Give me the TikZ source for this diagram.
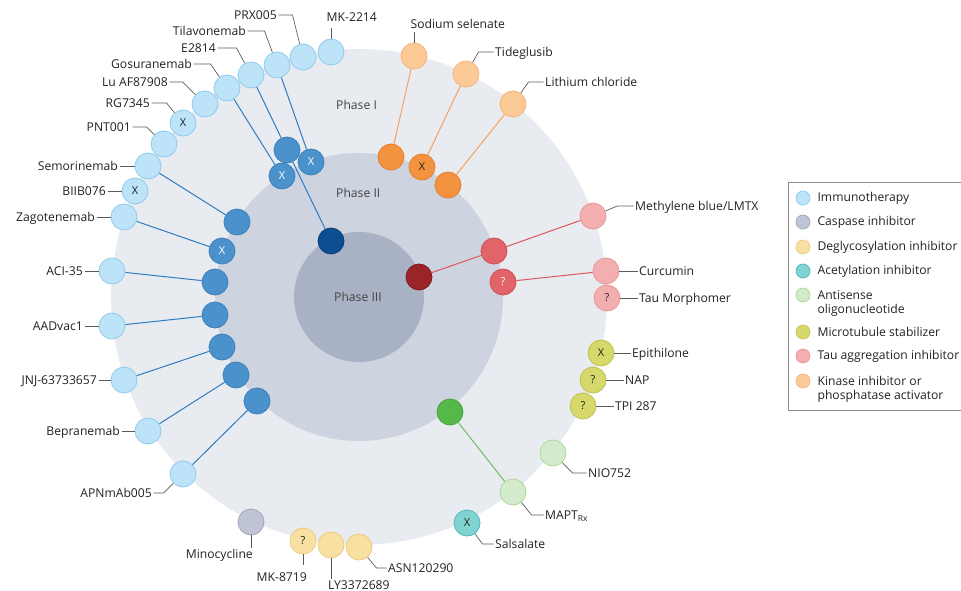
\documentclass[tikz,border=0pt]{standalone}
\usepackage{fontspec}
\setmainfont{Open Sans}
\usepackage{xcolor}
\usepackage{tikz}
\usetikzlibrary{positioning}
\definecolor{ink}{HTML}{222222}
\definecolor{leadc}{HTML}{5A5A5A}
\definecolor{ringI}{HTML}{E8EBF0}
\definecolor{ringII}{HTML}{CDD3DF}
\definecolor{ringIII}{HTML}{A9B1C4}
\definecolor{immF}{HTML}{BDE3F8}
\definecolor{immB}{HTML}{8ECBEE}
\definecolor{immIIF}{HTML}{4B92CC}
\definecolor{immIIB}{HTML}{3C7FBA}
\definecolor{immIIIF}{HTML}{0C4E91}
\definecolor{immIIIB}{HTML}{093F76}
\definecolor{immLine}{HTML}{2E7CC1}
\definecolor{kinF}{HTML}{FCCA97}
\definecolor{kinB}{HTML}{F5B27B}
\definecolor{kinIIF}{HTML}{F4933F}
\definecolor{kinIIB}{HTML}{E37F2C}
\definecolor{kinLine}{HTML}{F5A160}
\definecolor{tauF}{HTML}{F3AFB0}
\definecolor{tauB}{HTML}{E99698}
\definecolor{tauIIF}{HTML}{E16568}
\definecolor{tauIIB}{HTML}{CD5054}
\definecolor{tauIIIF}{HTML}{9A2428}
\definecolor{tauIIIB}{HTML}{7E1A1E}
\definecolor{tauLine}{HTML}{DB585C}
\definecolor{mtbF}{HTML}{D6D86B}
\definecolor{mtbB}{HTML}{BFC24E}
\definecolor{asoF}{HTML}{D3EBCA}
\definecolor{asoB}{HTML}{A8DA98}
\definecolor{asoIIF}{HTML}{55B94A}
\definecolor{asoIIB}{HTML}{45A33B}
\definecolor{asoLine}{HTML}{6DC05F}
\definecolor{acetF}{HTML}{81D3D2}
\definecolor{acetB}{HTML}{4EB9B8}
\definecolor{deglyF}{HTML}{F7E0A2}
\definecolor{deglyB}{HTML}{EBCB7C}
\definecolor{caspF}{HTML}{BFC5D5}
\definecolor{caspB}{HTML}{9EA6BC}
\definecolor{frame}{HTML}{8A8A8A}
\newcommand{\lblfont}{\fontsize{12.2}{14.5}\selectfont}
\tikzset{
  immC/.style={draw=immB, fill=immF},
  caspC/.style={draw=caspB, fill=caspF},
  deglyC/.style={draw=deglyB, fill=deglyF},
  acetC/.style={draw=acetB, fill=acetF},
  asoC/.style={draw=asoB, fill=asoF},
  mtbC/.style={draw=mtbB, fill=mtbF},
  tauC/.style={draw=tauB, fill=tauF},
  kinC/.style={draw=kinB, fill=kinF},
  dot/.style={circle, minimum size=26bp, inner sep=0pt, line width=0.8bp,
              font=\fontsize{11}{11}\selectfont, text=ink},
  imm/.style={dot, immC},
  immII/.style={dot, draw=immIIB, fill=immIIF, text=white},
  immIII/.style={dot, draw=immIIIB, fill=immIIIF},
  kin/.style={dot, kinC},
  kinII/.style={dot, draw=kinIIB, fill=kinIIF},
  tau/.style={dot, tauC},
  tauII/.style={dot, draw=tauIIB, fill=tauIIF, text=white},
  tauIII/.style={dot, draw=tauIIIB, fill=tauIIIF},
  mtb/.style={dot, mtbC},
  aso/.style={dot, asoC},
  asoII/.style={dot, draw=asoIIB, fill=asoIIF},
  acet/.style={dot, acetC},
  degly/.style={dot, deglyC},
  casp/.style={dot, caspC},
  lbl/.style={font=\lblfont, text=ink, inner sep=1.5bp, text height=9bp, text depth=0pt},
  phase/.style={font=\lblfont, text=ink!85, inner sep=0pt},
  lead/.style={draw=leadc, line width=0.7bp},
  trial/.style={line width=1bp},
  key/.style={circle, minimum size=14bp, inner sep=0pt, line width=0.7bp},
  keylbl/.style={font=\lblfont, text=ink, inner sep=0pt, align=left}
}
\begin{document}
\begin{tikzpicture}[x=1bp, y=-1bp]
  \useasboundingbox (0,0) rectangle (961,591);
  % phase rings
  \fill[ringI]   (359,297) circle[radius=248bp];
  \fill[ringII]  (359,297) circle[radius=144bp];
  \fill[ringIII] (359,297) circle[radius=65bp];
  \node[phase, anchor=west] (phI)   at (336,105) {Phase I};
  \node[phase, anchor=west] (phII)  at (336,193) {Phase II};
  \node[phase, anchor=west] (phIII) at (334,297) {Phase III};

  % immunotherapy: phase I ring
  \node[imm] (mk)   at (331,52)  {};
  \node[imm] (prx)  at (303,57)  {};
  \node[imm] (tila) at (277,65)  {};
  \node[imm] (e28)  at (251,75)  {};
  \node[imm] (gos)  at (227,88)  {};
  \node[imm] (lu)   at (205,104) {};
  \node[imm] (rg)   at (183,123) {X};
  \node[imm] (pnt)  at (164,144) {};
  \node[imm] (sem)  at (148,166) {};
  \node[imm] (biib) at (135,191) {X};
  \node[imm] (zag)  at (124,217) {};
  \node[imm] (aci)  at (112,271) {};
  \node[imm] (aad)  at (112,326) {};
  \node[imm] (jnj)  at (124,380) {};
  \node[imm] (bep)  at (148,431) {};
  \node[imm] (apn)  at (183,474) {};
  % immunotherapy: phase II and III
  \node[immII] (e28b)  at (287,150) {};
  \node[immII] (tilab) at (311,162) {X};
  \node[immII] (gosb)  at (282,176) {X};
  \node[immII] (semb)  at (237,222) {};
  \node[immII] (zagb)  at (222,251) {X};
  \node[immII] (acib)  at (215,282) {};
  \node[immII] (aadb)  at (215,315) {};
  \node[immII] (jnjb)  at (222,347) {};
  \node[immII] (bepb)  at (236,375) {};
  \node[immII] (apnb)  at (257,401) {};
  \node[immIII] (e28c) at (331,241) {};

  \draw[trial, immLine] (e28) -- (e28b) -- (e28c);
  \draw[trial, immLine] (tila) -- (tilab);
  \draw[trial, immLine] (gos) -- (gosb);
  \draw[trial, immLine] (sem) -- (semb);
  \draw[trial, immLine] (zag) -- (zagb);
  \draw[trial, immLine] (aci) -- (acib);
  \draw[trial, immLine] (aad) -- (aadb);
  \draw[trial, immLine] (jnj) -- (jnjb);
  \draw[trial, immLine] (bep) -- (bepb);
  \draw[trial, immLine] (apn) -- (apnb);

  % immunotherapy labels
  \node[lbl, anchor=south west] (lMk) at (325,23) {MK-2214};
  \node[lbl, anchor=east] (lPrx)  at (278.5,15)  {PRX005};
  \node[lbl, anchor=east] (lTila) at (247.5,31)  {Tilavonemab};
  \node[lbl, anchor=east] (lE28)  at (217.5,48)  {E2814};
  \node[lbl, anchor=east] (lGos)  at (193.5,64)  {Gosuranemab};
  \node[lbl, anchor=east] (lLu)   at (169.5,82)  {Lu AF87908};
  \node[lbl, anchor=east] (lRg)   at (151.5,103) {RG7345};
  \node[lbl, anchor=east] (lPnt)  at (132.5,127) {PNT001};
  \node[lbl, anchor=east] (lSem)  at (119.5,166) {Semorinemab};
  \node[lbl, anchor=east] (lBiib) at (107.5,191) {BIIB076};
  \node[lbl, anchor=east] (lZag)  at (96.5,217)  {Zagotenemab};
  \node[lbl, anchor=east] (lAci)  at (84.5,271)  {ACI-35};
  \node[lbl, anchor=east] (lAad)  at (84.5,326)  {AADvac1};
  \node[lbl, anchor=east] (lJnj)  at (98.5,380)  {JNJ-63733657};
  \node[lbl, anchor=east] (lBep)  at (121.5,431) {Bepranemab};
  \node[lbl, anchor=east] (lApn)  at (153.5,493) {APNmAb005};

  \draw[lead] (mk) -- ++(0,-24);
  \draw[lead] (lPrx.east) -- ++(14,0) -- (prx);
  \draw[lead] (lTila.east) -- ++(17,0) -- (tila);
  \draw[lead] (lE28.east) -- ++(19,0) -- (e28);
  \draw[lead] (lGos.east) -- ++(17,0) -- (gos);
  \draw[lead] (lLu.east) -- ++(13,0) -- (lu);
  \draw[lead] (lRg.east) -- ++(15,0) -- (rg);
  \draw[lead] (lPnt.east) -- ++(14,0) -- (pnt);
  \draw[lead] (lSem) -- (sem);
  \draw[lead] (lBiib) -- (biib);
  \draw[lead] (lZag) -- (zag);
  \draw[lead] (lAci) -- (aci);
  \draw[lead] (lAad) -- (aad);
  \draw[lead] (lJnj) -- (jnj);
  \draw[lead] (lBep) -- (bep);
  \draw[lead] (lApn.east) -- ++(10,0) -- (apn);

  % kinase inhibitor or phosphatase activator
  \node[kin] (sod)  at (414,56)  {};
  \node[kin] (tid)  at (466,74)  {};
  \node[kin] (lith) at (513,104) {};
  \node[kinII] (sodb)  at (391,157) {};
  \node[kinII] (tidb)  at (422,167) {X};
  \node[kinII] (lithb) at (448,185) {};
  \draw[trial, kinLine] (sod) -- (sodb);
  \draw[trial, kinLine] (tid) -- (tidb);
  \draw[trial, kinLine] (lith) -- (lithb);
  \node[lbl, anchor=south west] (lSod) at (409,30) {Sodium selenate};
  \node[lbl, anchor=west] (lTid)  at (493.5,52) {Tideglusib};
  \node[lbl, anchor=west] (lLith) at (543.5,82) {Lithium chloride};
  \draw[lead] (sod) -- ++(0,-24);
  \draw[lead] (lTid.west) -- ++(-15,0) -- (tid);
  \draw[lead] (lLith.west) -- ++(-15,0) -- (lith);

  % tau aggregation inhibitor
  \node[tau] (meth)  at (593,216) {};
  \node[tau] (cur)   at (606,271) {};
  \node[tau] (morph) at (607,298) {?};
  \node[tauII] (methb) at (494,251) {};
  \node[tauII] (curb)  at (503,282) {?};
  \node[tauIII] (methc) at (419,277) {};
  \draw[trial, tauLine] (meth) -- (methb) -- (methc);
  \draw[trial, tauLine] (cur) -- (curb);
  \node[lbl, anchor=west] (lMeth)  at (633.5,206) {Methylene blue/LMTX};
  \node[lbl, anchor=west] (lCur)   at (637.5,271) {Curcumin};
  \node[lbl, anchor=west] (lMorph) at (637.5,298) {Tau Morphomer};
  \draw[lead] (lMeth.west) -- ++(-16,0) -- (meth);
  \draw[lead] (lCur) -- (cur);
  \draw[lead] (lMorph) -- (morph);

  % microtubule stabilizer
  \node[mtb] (epi) at (601,353) {X};
  \node[mtb] (nap) at (593,380) {?};
  \node[mtb] (tpi) at (583,406) {?};
  \node[lbl, anchor=west] (lEpi) at (630.5,353) {Epithilone};
  \node[lbl, anchor=west] (lNap) at (623.5,380) {NAP};
  \node[lbl, anchor=west] (lTpi) at (613.5,406) {TPI 287};
  \draw[lead] (lEpi) -- (epi);
  \draw[lead] (lNap) -- (nap);
  \draw[lead] (lTpi) -- (tpi);

  % antisense oligonucleotide
  \node[aso] (nio)  at (553,453) {};
  \node[aso] (mapt) at (513,492) {};
  \node[asoII] (maptb) at (450,412) {};
  \draw[trial, asoLine] (mapt) -- (maptb);
  \node[lbl, anchor=west] (lNio)  at (586.5,473) {NIO752};
  \node[lbl, anchor=west] (lMapt) at (543.5,515) {MAPT\textsubscript{Rx}};
  \draw[lead] (lNio.west) -- ++(-14,0) -- (nio);
  \draw[lead] (lMapt.west) -- ++(-12,0) -- (mapt);

  % acetylation inhibitor
  \node[acet] (sal) at (467,523) {X};
  \node[lbl, anchor=west] (lSal) at (493.5,544) {Salsalate};
  \draw[lead] (lSal.west) -- ++(-11,0) -- (sal);

  % deglycosylation inhibitor
  \node[degly] (mk87) at (303,541) {?};
  \node[degly] (ly)   at (331,545) {};
  \node[degly] (asn)  at (359,547) {};
  \node[lbl, anchor=north east] (lMk87) at (308.5,571) {MK-8719};
  \node[lbl, anchor=north west] (lLy)   at (326.5,579) {LY3372689};
  \node[lbl, anchor=west]       (lAsn)  at (386.5,568) {ASN120290};
  \draw[lead] (mk87) -- ++(0,24);
  \draw[lead] (ly) -- (ly |- lLy.north);
  \draw[lead] (lAsn.west) -- ++(-10,0) -- (asn);

  % caspase inhibitor
  \node[casp] (mino) at (251,522) {};
  \node[lbl, anchor=north east] (lMino) at (254.5,548) {Minocycline};
  \draw[lead] (mino) -- (mino |- lMino.north);

  % legend
  \draw[frame, line width=0.8bp] (788,182) rectangle (975,410);
  \node[key, immC]   (kImm)   at (803,198) {};
  \node[key, caspC]  (kCasp)  at (803,222) {};
  \node[key, deglyC] (kDegly) at (803,247) {};
  \node[key, acetC]  (kAcet)  at (803,271) {};
  \node[key, asoC]   (kAso)   at (803,295) {};
  \node[key, mtbC]   (kMtb)   at (803,332) {};
  \node[key, tauC]   (kTau)   at (803,356) {};
  \node[key, kinC]   (kKin)   at (803,381) {};
  \node[keylbl, right=7bp of kImm]   (tImm)   {Immunotherapy};
  \node[keylbl, right=7bp of kCasp]  (tCasp)  {Caspase inhibitor};
  \node[keylbl, right=7bp of kDegly] (tDegly) {Deglycosylation inhibitor};
  \node[keylbl, right=7bp of kAcet]  (tAcet)  {Acetylation inhibitor};
  \node[keylbl, anchor=north west] (tAso) at ([xshift=7bp, yshift=5bp]kAso.east)
    {Antisense\\oligonucleotide};
  \node[keylbl, right=7bp of kMtb]   (tMtb)   {Microtubule stabilizer};
  \node[keylbl, right=7bp of kTau]   (tTau)   {Tau aggregation inhibitor};
  \node[keylbl, anchor=north west] (tKin) at ([xshift=7bp, yshift=5bp]kKin.east)
    {Kinase inhibitor or\\phosphatase activator};
\end{tikzpicture}
\end{document}
